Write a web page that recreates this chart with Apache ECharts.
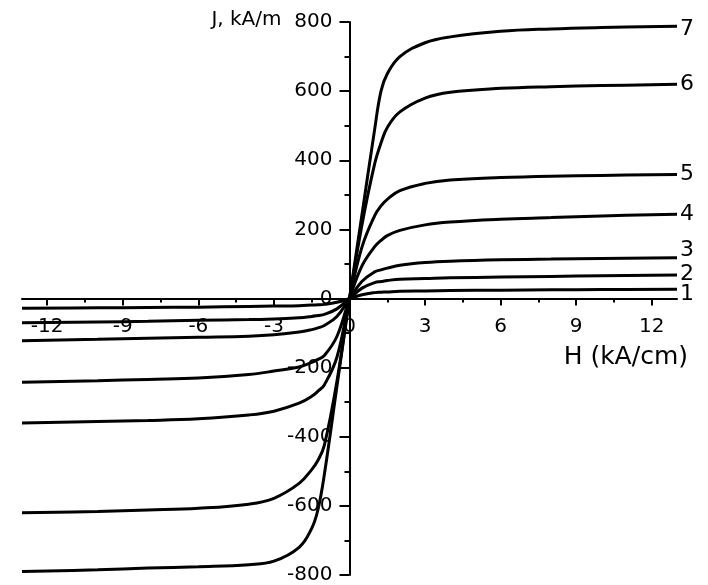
<!DOCTYPE html>
<html>
<head>
<meta charset="utf-8">
<script src="https://cdn.jsdelivr.net/npm/echarts@6/dist/echarts.min.js"></script>
<style>html,body{margin:0;padding:0;background:#fff}#c{width:708px;height:585px}</style>
</head>
<body>
<div id="c"></div>
<script>
// Field H (kA/cm)
const H = [-13,-10,-8,-6,-4,-3,-2,-1.5,-1.25,-1,-0.5,0,0.5,1,1.25,1.5,2,3,4,6,8,10,13];
// J (kA/m) for curves 1..7
const curve1 = [-28,-27,-26,-25,-23,-22,-21,-19,-18,-17,-11,0,11,17,18,19,21,22,23,24,25,26,27];
const curve2 = [-70,-68,-66,-63,-61,-59,-56,-52,-49,-46,-30,0,30,46,49,52,56,58,60,62,64,66,68];
const curve3 = [-122,-118,-115,-112,-109,-105,-97,-90,-85,-78,-52,0,50,77,83,88,96,104,108,112,114,116,118];
const curve4 = [-242,-238,-234,-230,-220,-210,-198,-185,-176,-165,-110,0,95,150,168,182,197,213,221,229,234,239,244];
const curve5 = [-360,-356,-353,-348,-337,-326,-303,-283,-268,-250,-170,0,150,240,268,287,312,333,343,350,354,356,359];
const curve6 = [-620,-616,-612,-607,-595,-578,-535,-495,-468,-425,-240,0,215,390,450,495,540,580,597,608,613,616,620];
const curve7 = [-790,-785,-780,-776,-770,-760,-720,-665,-610,-510,-255,0,245,490,600,650,700,740,757,773,780,784,788];
const curveNames = ['1','2','3','4','5','6','7'];
const curves = [curve1,curve2,curve3,curve4,curve5,curve6,curve7];
const xMajor = [-12,-9,-6,-3,0,3,6,9,12];
const xMinor = [-10.5,-7.5,-4.5,-1.5,1.5,4.5,7.5,10.5];
const labelOffsets = [5,-1,-7,0,0,0,3];

const FONT = 'DejaVu Sans';
const W = 708, HT = 585;
const L = 22, R = 31, T = 22, B = 10;
const zeroFromBottom = HT - (T + (HT - T - B) / 2); // x-axis sits at J = 0
const zeroFromLeft = L + (W - L - R) / 2;            // y-axis sits at H = 0
const chart = echarts.init(document.getElementById('c'), null, {renderer:'canvas'});
const hiddenY = gi => ({type:'value', gridIndex:gi, min:0, max:1, show:false});
const hiddenX = gi => ({type:'value', gridIndex:gi, min:0, max:1, show:false});
const g = o => Object.assign({outerBoundsMode:'none', containLabel:false}, o);
chart.setOption({
  animation:false,
  backgroundColor:'#fff',
  grid:[
    g({left:L,right:R,top:T,bottom:B}),
    g({left:L,right:R,top:T,bottom:zeroFromBottom}),
    g({left:L,right:R,top:T,bottom:zeroFromBottom}),
    g({left:zeroFromLeft,right:R,top:T,bottom:B})
  ],
  xAxis:[{
    type:'value', gridIndex:0, min:-13, max:13, show:false
  },{
    type:'value', gridIndex:1, min:-13, max:13, position:'bottom',
    axisLine:{onZero:false, lineStyle:{color:'#000',width:2}},
    axisTick:{show:true, customValues:xMajor, length:7, lineStyle:{color:'#000',width:2}},
    axisLabel:{customValues:xMajor, color:'#000', fontFamily:FONT, fontSize:20, margin:18},
    splitLine:{show:false},
    name:'H (kA/cm)', nameLocation:'end', nameGap:11,
    nameTextStyle:{color:'#000', fontFamily:FONT, fontSize:25, align:'right', verticalAlign:'top', padding:[46,0,0,0]}
  },{
    type:'value', gridIndex:2, min:-13, max:13, position:'bottom',
    axisLine:{show:false, onZero:false},
    axisTick:{show:true, customValues:xMinor, length:4, lineStyle:{color:'#000',width:2}},
    axisLabel:{show:false},
    splitLine:{show:false}
  }, hiddenX(3)],
  yAxis:[{
    type:'value', gridIndex:0, min:-800, max:800, show:false
  }, hiddenY(1), hiddenY(2), {
    type:'value', gridIndex:3, min:-800, max:800, interval:200, position:'left',
    axisLine:{onZero:false, lineStyle:{color:'#000',width:2}},
    axisTick:{show:true, length:10, lineStyle:{color:'#000',width:2}},
    minorTick:{show:true, splitNumber:2, length:5, lineStyle:{color:'#000',width:2}},
    axisLabel:{color:'#000', fontFamily:FONT, fontSize:20, margin:17},
    splitLine:{show:false},
    name:'J, kA/m', nameLocation:'end', nameGap:2,
    nameTextStyle:{color:'#000', fontFamily:FONT, fontSize:20, align:'right', verticalAlign:'middle', padding:[0,68,0,0]}
  }],
  series: curves.map((c,i)=>({
    name:curveNames[i], type:'line', xAxisIndex:0, yAxisIndex:0,
    data:H.map((h,j)=>[h,c[j]]),
    showSymbol:false, smooth:0.4,
    lineStyle:{color:'#000', width:3},
    endLabel:{show:true, formatter:'{a}', color:'#000', fontFamily:FONT, fontSize:22, distance:3, offset:[0,labelOffsets[i]]},
    z:3
  }))
});
</script>
</body>
</html>
